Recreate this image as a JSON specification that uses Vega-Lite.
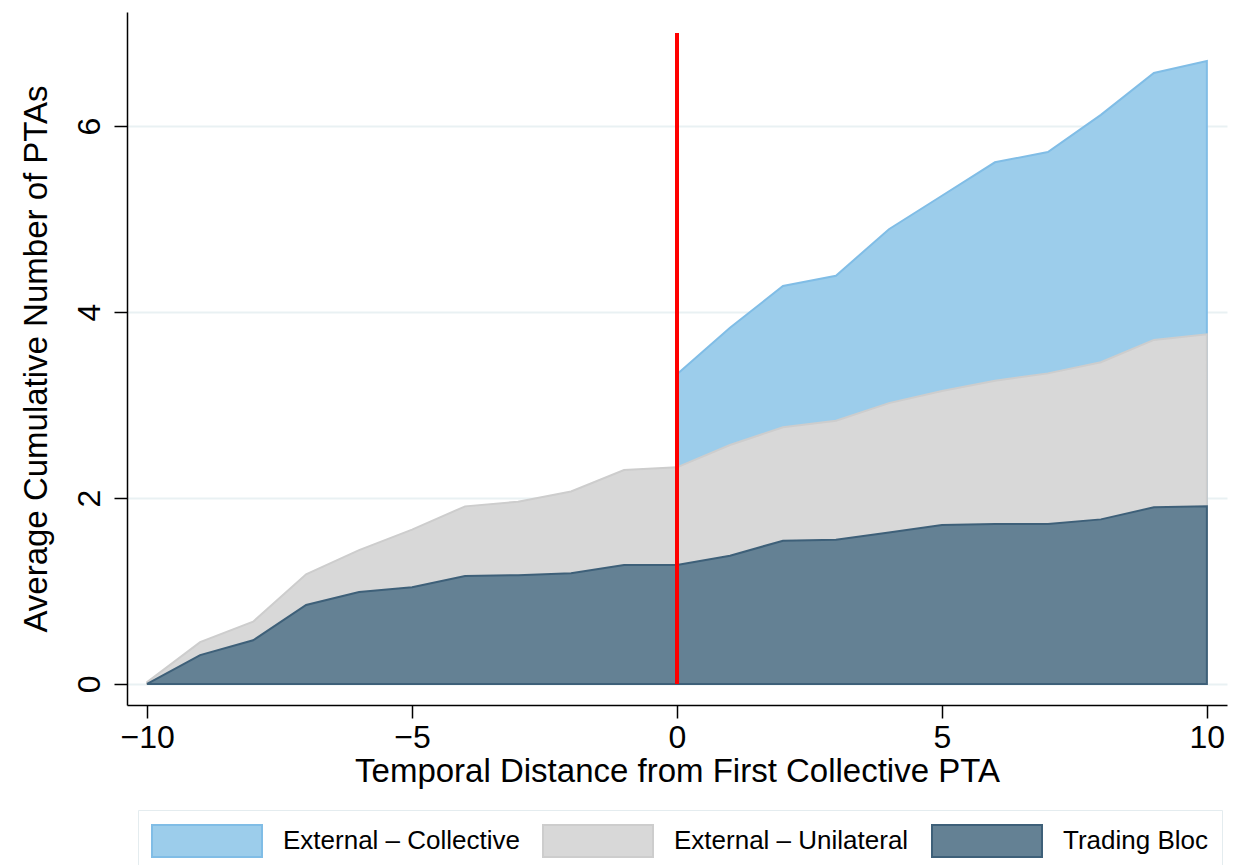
{
  "$schema": "https://vega.github.io/schema/vega-lite/v6.json",
  "width": 1100,
  "height": 693,
  "autosize": {"type": "none"},
  "padding": {"left": 127, "top": 12, "right": 8, "bottom": 160},
  "background": "white",
  "config": {
    "view": {"stroke": null},
    "font": "Liberation Sans",
    "axis": {
      "domainColor": "black",
      "domainWidth": 1.5,
      "tickColor": "black",
      "tickWidth": 1.5,
      "tickSize": 13,
      "labelColor": "black",
      "labelFontSize": 32,
      "titleColor": "black",
      "titleFontSize": 33,
      "titleFontWeight": "normal"
    }
  },
  "data": {
    "values": [
      {"t": -10, "series": "Trading Bloc", "value": 0},
      {"t": -9, "series": "Trading Bloc", "value": 0.31},
      {"t": -8, "series": "Trading Bloc", "value": 0.47},
      {"t": -7, "series": "Trading Bloc", "value": 0.85},
      {"t": -6, "series": "Trading Bloc", "value": 0.99},
      {"t": -5, "series": "Trading Bloc", "value": 1.04},
      {"t": -4, "series": "Trading Bloc", "value": 1.16},
      {"t": -3, "series": "Trading Bloc", "value": 1.17},
      {"t": -2, "series": "Trading Bloc", "value": 1.19},
      {"t": -1, "series": "Trading Bloc", "value": 1.28},
      {"t": 0, "series": "Trading Bloc", "value": 1.28},
      {"t": 1, "series": "Trading Bloc", "value": 1.38},
      {"t": 2, "series": "Trading Bloc", "value": 1.54},
      {"t": 3, "series": "Trading Bloc", "value": 1.55},
      {"t": 4, "series": "Trading Bloc", "value": 1.63},
      {"t": 5, "series": "Trading Bloc", "value": 1.71},
      {"t": 6, "series": "Trading Bloc", "value": 1.72},
      {"t": 7, "series": "Trading Bloc", "value": 1.72},
      {"t": 8, "series": "Trading Bloc", "value": 1.77},
      {"t": 9, "series": "Trading Bloc", "value": 1.9},
      {"t": 10, "series": "Trading Bloc", "value": 1.91},
      {"t": -10, "series": "External – Unilateral", "value": 0.02},
      {"t": -9, "series": "External – Unilateral", "value": 0.45},
      {"t": -8, "series": "External – Unilateral", "value": 0.67},
      {"t": -7, "series": "External – Unilateral", "value": 1.18},
      {"t": -6, "series": "External – Unilateral", "value": 1.44},
      {"t": -5, "series": "External – Unilateral", "value": 1.66},
      {"t": -4, "series": "External – Unilateral", "value": 1.91},
      {"t": -3, "series": "External – Unilateral", "value": 1.96},
      {"t": -2, "series": "External – Unilateral", "value": 2.07},
      {"t": -1, "series": "External – Unilateral", "value": 2.3},
      {"t": 0, "series": "External – Unilateral", "value": 2.33},
      {"t": 1, "series": "External – Unilateral", "value": 2.57},
      {"t": 2, "series": "External – Unilateral", "value": 2.76},
      {"t": 3, "series": "External – Unilateral", "value": 2.83},
      {"t": 4, "series": "External – Unilateral", "value": 3.02},
      {"t": 5, "series": "External – Unilateral", "value": 3.15},
      {"t": 6, "series": "External – Unilateral", "value": 3.26},
      {"t": 7, "series": "External – Unilateral", "value": 3.34},
      {"t": 8, "series": "External – Unilateral", "value": 3.46},
      {"t": 9, "series": "External – Unilateral", "value": 3.7},
      {"t": 10, "series": "External – Unilateral", "value": 3.76},
      {"t": 0, "series": "External – Collective", "value": 3.33},
      {"t": 1, "series": "External – Collective", "value": 3.83},
      {"t": 2, "series": "External – Collective", "value": 4.28},
      {"t": 3, "series": "External – Collective", "value": 4.39},
      {"t": 4, "series": "External – Collective", "value": 4.89},
      {"t": 5, "series": "External – Collective", "value": 5.25},
      {"t": 6, "series": "External – Collective", "value": 5.61},
      {"t": 7, "series": "External – Collective", "value": 5.72},
      {"t": 8, "series": "External – Collective", "value": 6.12},
      {"t": 9, "series": "External – Collective", "value": 6.57},
      {"t": 10, "series": "External – Collective", "value": 6.7}
    ]
  },
  "encoding": {
    "x": {
      "field": "t",
      "type": "quantitative",
      "scale": {"domain": [-10.38, 10.38], "nice": false, "zero": false},
      "axis": {
        "values": [-10, -5, 0, 5, 10],
        "grid": false,
        "labelPadding": 4,
        "title": "Temporal Distance from First Collective PTA",
        "titlePadding": 2
      }
    },
    "y": {
      "field": "value",
      "type": "quantitative",
      "scale": {"domain": [-0.226, 7.226], "nice": false, "zero": false},
      "axis": {
        "values": [0, 2, 4, 6],
        "grid": true,
        "gridColor": "#e9f1f3",
        "gridWidth": 2,
        "labelAngle": 270,
        "labelAlign": "center",
        "labelBaseline": "bottom",
        "labelPadding": 8,
        "title": "Average Cumulative Number of PTAs",
        "titlePadding": 20
      }
    },
    "fill": {
      "field": "series",
      "type": "nominal",
      "scale": {
        "domain": ["External – Collective", "External – Unilateral", "Trading Bloc"],
        "range": ["#9ccdeb", "#d8d8d8", "#648194"]
      },
      "legend": {
        "title": null,
        "orient": "none",
        "legendX": 11,
        "legendY": 798,
        "direction": "horizontal",
        "columns": 3,
        "symbolType": "M-3.4375,-1L3.4375,-1L3.4375,1L-3.4375,1Z",
        "symbolSize": 1024,
        "symbolOffset": 38,
        "symbolStrokeWidth": 2,
        "labelFontSize": 26,
        "labelLimit": 500,
        "labelColor": "black",
        "labelOffset": 59,
        "columnPadding": 19,
        "padding": 14,
        "strokeColor": "#e4ecef",
        "fillColor": "white"
      }
    },
    "stroke": {
      "field": "series",
      "type": "nominal",
      "scale": {
        "domain": ["External – Collective", "External – Unilateral", "Trading Bloc"],
        "range": ["#80bde6", "#cdcdcd", "#3e6079"]
      }
    }
  },
  "layer": [
    {
      "transform": [{"filter": "datum.series === 'External – Collective'"}],
      "mark": {"type": "area", "strokeWidth": 2, "opacity": 1, "fillOpacity": 1}
    },
    {
      "transform": [{"filter": "datum.series === 'External – Unilateral'"}],
      "mark": {"type": "area", "strokeWidth": 2, "opacity": 1, "fillOpacity": 1}
    },
    {
      "transform": [{"filter": "datum.series === 'Trading Bloc'"}],
      "mark": {"type": "area", "strokeWidth": 2, "opacity": 1, "fillOpacity": 1}
    },
    {
      "mark": {"type": "rule", "color": "#ff0000", "strokeWidth": 2.5},
      "encoding": {
        "x": {"datum": 0},
        "y": {"datum": 0},
        "y2": {"datum": 7},
        "fill": null,
        "stroke": null
      }
    }
  ]
}
